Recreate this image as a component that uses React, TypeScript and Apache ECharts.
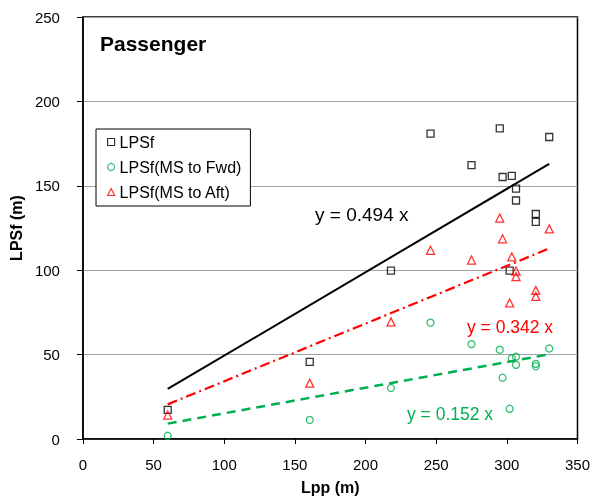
import React, { useEffect, useRef } from "react";
import * as echarts from "echarts";

// Ship length between perpendiculars (m)
const lpp = [60, 160.5, 218, 246, 275, 295, 297, 302, 303.5, 306.5, 306.5, 320.5, 320.5, 330];
// Longitudinal position of superstructure front (m)
const lpsf = [17.2, 45.7, 99.7, 180.9, 162.2, 184, 155.2, 99.7, 155.9, 148.3, 141.3, 133.3, 128.6, 178.9];
const lpsfFwd = [1.9, 11.3, 30.2, 68.9, 56.2, 52.9, 36.3, 17.9, 47.8, 48.8, 43.9, 44.5, 43.1, 53.6];
const lpsfAft = [14.2, 33.1, 69.4, 111.8, 106, 130.9, 118.6, 80.6, 107.9, 99.5, 96.2, 88, 84.5, 124.5];

const seriesNames = ["LPSf", "LPSf(MS to Fwd)", "LPSf(MS to Aft)"];
const slopes = [0.494, 0.152, 0.342];
const colors = ["#000000", "#00B050", "#FF0000"];
const symbols = ["rect", "circle", "triangle"];

const xTicks = [0, 50, 100, 150, 200, 250, 300, 350];
const yTicks = [0, 50, 100, 150, 200, 250];

const FONT = "'Liberation Sans', Arial, sans-serif";

export default function App() {
  const ref = useRef<HTMLDivElement>(null);

  useEffect(() => {
    if (!ref.current) return;
    document.body.style.margin = "0";
    document.body.style.overflow = "hidden";
    const chart = echarts.init(ref.current, null, { renderer: "svg" });

    const values = [lpsf, lpsfFwd, lpsfAft];
    const xMin = Math.min(...lpp);
    const xMax = Math.max(...lpp);

    const scatter = values.map((ys, i) => ({
      name: seriesNames[i],
      type: "scatter",
      symbol: symbols[i],
      symbolSize: i === 2 ? 8 : 7,
      data: lpp.map((x, k) => [x, ys[k]]),
      itemStyle: { color: "transparent", borderColor: colors[i], borderWidth: 1.3 },
      z: 3,
    }));

    const lineTypes: any[] = ["solid", [9, 6], [10, 4, 2, 4]];
    const lineWidths = [2, 2.5, 2.2];
    const fits = slopes.map((s, i) => ({
      name: "fit" + i,
      type: "line",
      data: [
        [xMin, s * xMin],
        [xMax, s * xMax],
      ],
      showSymbol: false,
      silent: true,
      lineStyle: { color: colors[i], width: lineWidths[i], type: lineTypes[i] },
      z: 4,
    }));

    // equation labels: left x, vertical centre y, font size
    const eqPos = [
      { x: 315, y: 214, size: 19 },
      { x: 407, y: 414, size: 17.5 },
      { x: 467, y: 327, size: 17.5 },
    ];

    chart.setOption({
      animation: false,
      grid: {
        left: 81,
        right: 12,
        top: 17,
        bottom: 56,
        show: true,
        borderColor: "#000",
        borderWidth: 1.5,
      },
      xAxis: {
        type: "value",
        min: xTicks[0],
        max: xTicks[xTicks.length - 1],
        interval: 50,
        name: "Lpp (m)",
        nameLocation: "middle",
        nameGap: 40,
        nameTextStyle: { fontFamily: FONT, fontWeight: "bold", fontSize: 16, color: "#000" },
        axisLine: { lineStyle: { color: "#000", width: 1.5 } },
        axisTick: { inside: false, length: 5, lineStyle: { color: "#000" } },
        axisLabel: { fontFamily: FONT, fontSize: 15, color: "#000", margin: 18 },
        splitLine: { show: false },
      },
      yAxis: {
        type: "value",
        min: yTicks[0],
        max: yTicks[yTicks.length - 1],
        interval: 50,
        name: "LPSf (m)",
        nameLocation: "middle",
        nameRotate: 90,
        nameGap: 51,
        nameTextStyle: { fontFamily: FONT, fontWeight: "bold", fontSize: 16, color: "#000" },
        axisLine: { show: true, lineStyle: { color: "#000", width: 1.5 } },
        axisTick: { show: true, inside: false, length: 6, lineStyle: { color: "#000" } },
        axisLabel: { fontFamily: FONT, fontSize: 15, color: "#000", margin: 23 },
        splitLine: { show: true, lineStyle: { color: "#a0a0a0", width: 1 } },
      },
      legend: {
        data: seriesNames.map((n, i) => ({
          name: n,
          icon: symbols[i],
          itemStyle: { color: "transparent", borderColor: colors[i], borderWidth: 1.2 },
        })),
        orient: "vertical",
        left: 96,
        top: 129,
        padding: [5, 9, 6, 11],
        itemWidth: 7,
        itemHeight: 7,
        itemGap: 9,
        backgroundColor: "#fff",
        borderColor: "#000",
        borderWidth: 1,
        borderRadius: 0,
        selectedMode: false,
        textStyle: { fontFamily: FONT, fontSize: 16, color: "#000" },
        z: 10,
      },
      graphic: [
        {
          type: "text",
          left: 100,
          top: 33,
          style: { text: "Passenger", font: `bold 21px ${FONT}`, fill: "#000" },
        },
        ...slopes.map((s, i) => ({
          type: "text",
          x: eqPos[i].x,
          y: eqPos[i].y,
          style: {
            text: `y = ${s.toFixed(3)} x`,
            font: `${eqPos[i].size}px ${FONT}`,
            fill: colors[i],
            verticalAlign: "middle",
          },
          z: 20,
        })),
      ],
      series: [...scatter, ...fits],
    });

    return () => chart.dispose();
  }, []);

  return (
    <div
      ref={ref}
      style={{ position: "fixed", left: 0, top: 0, width: 593, height: 500 }}
    />
  );
}
